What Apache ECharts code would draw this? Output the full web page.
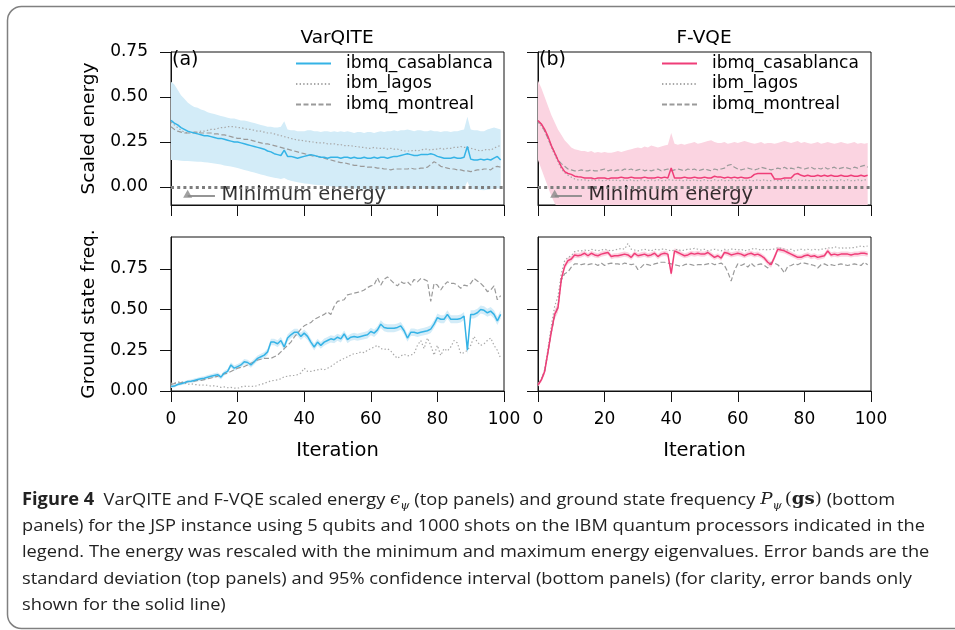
<!DOCTYPE html>
<html>
<head>
<meta charset="utf-8">
<script src="https://cdn.jsdelivr.net/npm/echarts@6/dist/echarts.min.js"></script>
<style>
  html, body { margin: 0; padding: 0; background: #fff; }
  #chart { width: 955px; height: 630px; }
</style>
</head>
<body>
<div id="chart"></div>
<script>
// Iteration index shared by every curve
const ITER = Array.from({ length: 100 }, (_, i) => i);

const xTicks = [0, 20, 40, 60, 80, 100];
const yTicks = [0, 0.25, 0.5, 0.75];

const legendNames = ['ibmq_casablanca', 'ibm_lagos', 'ibmq_montreal'];

// ---- VarQITE: scaled energy ----
const vqEnergyCasablanca = [
  .37,.355,.345,.33,.32,.31,.305,.30,.295,.29,
  .285,.285,.28,.275,.27,.27,.265,.26,.255,.25,
  .25,.245,.24,.235,.23,.225,.22,.215,.21,.20,
  .195,.185,.18,.175,.205,.17,.17,.165,.16,.165,
  .17,.175,.18,.175,.17,.165,.165,.16,.165,.165,
  .165,.16,.165,.165,.16,.165,.16,.16,.165,.16,
  .16,.165,.16,.165,.165,.16,.165,.17,.17,.175,
  .18,.185,.18,.175,.175,.18,.18,.18,.185,.18,
  .17,.165,.16,.16,.16,.165,.16,.16,.165,.225,
  .155,.15,.15,.155,.15,.155,.15,.16,.17,.15
];
const vqEnergyUpper = [
  .585,.57,.54,.51,.49,.47,.455,.445,.44,.43,
  .425,.415,.41,.405,.40,.395,.39,.385,.38,.38,
  .375,.37,.37,.365,.36,.355,.35,.345,.34,.335,
  .335,.33,.33,.335,.365,.32,.315,.315,.31,.31,
  .31,.315,.315,.31,.31,.305,.31,.31,.305,.31,
  .305,.31,.305,.31,.305,.30,.305,.305,.30,.305,
  .305,.30,.305,.31,.305,.31,.31,.315,.31,.315,
  .315,.32,.315,.31,.315,.315,.31,.31,.315,.31,
  .31,.305,.31,.31,.305,.31,.31,.315,.32,.39,
  .32,.315,.315,.31,.31,.32,.325,.33,.325,.32
];
const vqEnergyLower = [
  .15,.15,.148,.146,.145,.145,.143,.142,.14,.14,
  .138,.136,.134,.13,.128,.125,.12,.117,.114,.11,
  .105,.10,.095,.09,.085,.08,.075,.07,.065,.06,
  .055,.052,.048,.045,.05,.04,.035,.03,.027,.024,
  .02,.018,.015,.013,.011,.01,.008,.006,.004,.002,
  0,-.002,-.004,-.005,-.006,-.008,-.01,-.01,-.012,-.012,
  -.014,-.014,-.015,-.013,-.012,-.015,-.012,-.01,-.012,-.01,
  -.01,-.005,-.008,-.01,-.012,-.01,-.01,-.008,-.01,-.012,
  -.012,-.014,-.015,-.014,-.015,-.012,-.015,-.012,-.01,.03,
  -.01,-.012,-.014,-.016,-.018,-.015,-.012,-.01,-.008,-.008
];
const vqEnergyLagos = [
  .36,.345,.33,.315,.305,.30,.30,.30,.305,.31,
  .31,.315,.32,.32,.325,.33,.33,.335,.335,.335,
  .33,.33,.325,.32,.32,.315,.31,.31,.305,.30,
  .30,.295,.29,.285,.28,.275,.27,.265,.26,.26,
  .255,.255,.25,.25,.245,.245,.245,.24,.24,.24,
  .235,.235,.23,.23,.23,.225,.225,.22,.22,.215,
  .215,.22,.215,.215,.215,.21,.215,.21,.21,.205,
  .20,.20,.20,.205,.20,.205,.21,.21,.205,.21,
  .21,.215,.21,.215,.215,.22,.22,.225,.22,.22,
  .215,.21,.205,.20,.205,.21,.205,.215,.225,.23
];
const vqEnergyMontreal = [
  .335,.32,.31,.305,.30,.30,.30,.305,.305,.30,
  .30,.30,.30,.295,.295,.29,.29,.285,.28,.275,
  .27,.27,.265,.265,.26,.255,.25,.245,.24,.24,
  .235,.23,.225,.22,.215,.21,.205,.20,.195,.19,
  .185,.18,.175,.17,.17,.165,.16,.155,.15,.145,
  .14,.135,.135,.13,.125,.12,.12,.115,.115,.11,
  .11,.11,.105,.105,.10,.10,.095,.10,.10,.10,
  .10,.10,.105,.10,.10,.105,.105,.11,.125,.14,
  .13,.115,.11,.105,.10,.10,.095,.095,.09,.09,
  .085,.09,.095,.095,.10,.10,.095,.11,.115,.11
];

// ---- F-VQE: scaled energy ----
const fvEnergyCasablanca = [
  .37,.35,.32,.28,.23,.19,.15,.113,.085,.075,
  .07,.06,.057,.055,.05,.05,.05,.045,.05,.05,
  .05,.045,.05,.05,.05,.055,.05,.05,.055,.05,
  .05,.05,.055,.05,.05,.05,.055,.05,.055,.05,
  .105,.05,.05,.05,.055,.05,.05,.055,.05,.05,
  .055,.05,.05,.06,.055,.055,.05,.055,.05,.055,
  .05,.055,.05,.05,.055,.07,.075,.075,.075,.075,
  .075,.045,.045,.045,.05,.05,.05,.07,.075,.065,
  .06,.065,.06,.06,.065,.06,.065,.06,.065,.06,
  .06,.065,.06,.06,.065,.06,.06,.065,.06,.065
];
const fvEnergyUpper = [
  .59,.55,.50,.45,.40,.36,.32,.29,.26,.24,
  .22,.21,.205,.20,.20,.195,.20,.19,.195,.19,
  .195,.19,.19,.195,.20,.195,.20,.205,.21,.215,
  .22,.215,.225,.22,.23,.225,.22,.225,.23,.235,
  .30,.24,.235,.24,.235,.24,.245,.25,.24,.245,
  .25,.255,.26,.25,.245,.245,.25,.24,.245,.25,
  .245,.25,.255,.25,.245,.24,.245,.25,.24,.245,
  .245,.24,.245,.25,.255,.25,.245,.25,.255,.245,
  .25,.245,.24,.245,.25,.24,.245,.25,.245,.24,
  .245,.25,.245,.24,.245,.25,.24,.245,.24,.245
];
const fvEnergyLower = [
  .15,.10,.05,0,-.05,-.09,-.12,-.14,-.15,-.15,
  -.14,-.13,-.13,-.125,-.12,-.125,-.12,-.12,-.125,-.12,
  -.12,-.125,-.12,-.12,-.115,-.12,-.12,-.115,-.12,-.125,
  -.12,-.125,-.12,-.125,-.13,-.125,-.12,-.125,-.12,-.13,
  -.11,-.13,-.125,-.13,-.125,-.13,-.135,-.13,-.135,-.13,
  -.13,-.135,-.14,-.13,-.135,-.13,-.135,-.13,-.135,-.14,
  -.135,-.14,-.135,-.14,-.135,-.12,-.115,-.12,-.115,-.12,
  -.12,-.145,-.14,-.145,-.14,-.135,-.14,-.12,-.115,-.125,
  -.13,-.125,-.13,-.125,-.13,-.125,-.13,-.125,-.13,-.125,
  -.13,-.125,-.13,-.125,-.13,-.125,-.13,-.125,-.13,-.125
];
const fvEnergyLagos = [
  .36,.34,.31,.27,.22,.18,.14,.10,.08,.065,
  .055,.045,.04,.04,.04,.035,.04,.035,.04,.035,
  .035,.04,.035,.04,.035,.035,.04,.035,.04,.035,
  .035,.04,.035,.035,.04,.035,.04,.035,.035,.04,
  .04,.035,.04,.035,.035,.04,.035,.04,.035,.035,
  .04,.035,.035,.04,.035,.04,.035,.035,.04,.035,
  .035,.04,.035,.04,.035,.035,.04,.035,.04,.035,
  .035,.04,.035,.035,.04,.035,.04,.035,.04,.035,
  .04,.035,.035,.04,.035,.04,.035,.035,.04,.035,
  .035,.04,.035,.04,.035,.035,.04,.035,.04,.04
];
const fvEnergyMontreal = [
  .36,.35,.31,.27,.23,.19,.15,.13,.115,.10,
  .095,.09,.09,.095,.09,.09,.095,.09,.09,.095,
  .10,.09,.095,.09,.095,.09,.10,.095,.10,.09,
  .095,.10,.09,.095,.09,.095,.10,.09,.095,.10,
  .09,.095,.10,.095,.09,.10,.095,.10,.09,.095,
  .10,.095,.09,.10,.095,.10,.105,.12,.125,.11,
  .10,.095,.10,.105,.10,.095,.10,.11,.105,.10,
  .095,.10,.105,.10,.11,.10,.105,.10,.11,.105,
  .10,.105,.11,.10,.105,.10,.11,.10,.105,.11,
  .10,.105,.11,.105,.10,.11,.105,.115,.12,.11
];

// ---- VarQITE: ground state frequency ----
const vqFreqCasablanca = [
  .027,.03,.04,.045,.05,.058,.06,.065,.07,.075,
  .078,.085,.09,.095,.10,.085,.11,.12,.16,.14,
  .15,.16,.18,.175,.16,.18,.20,.21,.22,.24,
  .30,.30,.29,.31,.27,.325,.345,.36,.36,.335,
  .355,.335,.30,.27,.30,.28,.30,.31,.32,.315,
  .33,.32,.35,.315,.33,.335,.33,.335,.34,.345,
  .365,.355,.375,.41,.39,.385,.385,.385,.39,.40,
  .37,.325,.36,.36,.355,.36,.365,.37,.38,.41,
  .45,.44,.44,.47,.44,.44,.44,.445,.46,.25,
  .47,.47,.48,.50,.495,.48,.49,.47,.43,.47
];
const vqFreqCI = [
  .008,.008,.009,.009,.01,.01,.011,.011,.012,.012,
  .012,.013,.013,.014,.014,.014,.015,.015,.016,.016,
  .016,.017,.017,.017,.018,.018,.018,.019,.019,.02,
  .02,.02,.021,.021,.021,.022,.022,.022,.022,.022,
  .022,.022,.021,.021,.021,.021,.022,.022,.022,.022,
  .022,.022,.022,.022,.022,.022,.022,.022,.022,.023,
  .023,.023,.023,.024,.024,.024,.024,.024,.024,.024,
  .023,.023,.023,.023,.023,.023,.023,.024,.024,.024,
  .025,.025,.025,.025,.025,.025,.025,.025,.025,.028,
  .025,.025,.025,.025,.025,.025,.025,.025,.025,.025
];
const vqFreqLagos = [
  .047,.05,.055,.058,.05,.04,.045,.04,.038,.035,
  .037,.035,.03,.032,.028,.022,.025,.02,.022,.018,
  .016,.025,.03,.028,.03,.027,.035,.04,.047,.055,
  .062,.065,.068,.075,.088,.09,.095,.095,.10,.11,
  .14,.12,.12,.125,.13,.134,.13,.14,.15,.165,
  .18,.19,.20,.21,.22,.23,.23,.24,.235,.25,
  .26,.27,.28,.26,.255,.26,.245,.22,.20,.215,
  .225,.215,.22,.23,.28,.31,.26,.325,.28,.22,
  .28,.218,.26,.245,.27,.31,.295,.23,.235,.25,
  .28,.335,.30,.28,.29,.31,.325,.28,.25,.20
];
const vqFreqMontreal = [
  .04,.045,.05,.05,.055,.058,.06,.06,.065,.065,
  .07,.075,.08,.085,.09,.10,.105,.11,.12,.13,
  .14,.145,.15,.16,.17,.18,.19,.195,.20,.20,
  .20,.21,.22,.24,.26,.28,.30,.33,.355,.38,
  .40,.41,.42,.44,.45,.46,.47,.485,.47,.52,
  .55,.555,.56,.59,.595,.60,.605,.61,.62,.635,
  .645,.65,.695,.65,.685,.70,.68,.66,.645,.67,
  .66,.67,.65,.685,.67,.69,.685,.675,.55,.66,
  .65,.62,.65,.67,.66,.66,.65,.63,.65,.645,
  .66,.69,.675,.66,.64,.61,.62,.645,.56,.585
];

// ---- F-VQE: ground state frequency ----
const fvFreqCasablanca = [
  .037,.068,.12,.24,.365,.47,.51,.685,.765,.80,
  .81,.834,.83,.835,.845,.83,.845,.835,.83,.84,
  .845,.85,.825,.83,.83,.835,.84,.835,.82,.845,
  .83,.835,.84,.83,.835,.845,.825,.84,.845,.84,
  .72,.86,.85,.84,.83,.835,.845,.84,.845,.84,
  .84,.85,.835,.82,.83,.815,.85,.845,.835,.84,
  .845,.84,.83,.84,.845,.835,.84,.83,.815,.79,
  .775,.82,.87,.865,.86,.85,.84,.83,.82,.82,
  .83,.835,.825,.83,.82,.825,.83,.86,.835,.84,
  .835,.84,.84,.84,.835,.84,.84,.845,.845,.84
];
const fvFreqCI = [
  .01,.015,.02,.025,.03,.03,.03,.025,.02,.02,
  .018,.017,.016,.016,.016,.016,.016,.016,.016,.016,
  .016,.016,.016,.016,.016,.016,.016,.016,.016,.016,
  .016,.016,.016,.016,.016,.016,.016,.016,.016,.016,
  .022,.016,.016,.016,.016,.016,.016,.016,.016,.016,
  .016,.016,.016,.016,.016,.016,.016,.016,.016,.016,
  .016,.016,.016,.016,.016,.016,.016,.016,.017,.018,
  .018,.017,.016,.016,.016,.016,.016,.016,.016,.016,
  .016,.016,.016,.016,.016,.016,.016,.016,.016,.016,
  .016,.016,.016,.016,.016,.016,.016,.016,.016,.016
];
const fvFreqLagos = [
  .04,.07,.13,.26,.40,.52,.58,.72,.80,.82,
  .83,.855,.86,.86,.865,.86,.87,.865,.86,.865,
  .87,.865,.86,.865,.87,.875,.87,.905,.87,.865,
  .86,.865,.87,.865,.86,.87,.865,.87,.87,.865,
  .86,.865,.87,.86,.865,.87,.87,.875,.87,.865,
  .87,.86,.865,.87,.865,.86,.87,.865,.87,.87,
  .865,.87,.86,.865,.87,.875,.87,.865,.87,.865,
  .87,.87,.88,.875,.87,.865,.87,.86,.865,.87,
  .865,.87,.865,.87,.865,.87,.87,.88,.875,.885,
  .88,.875,.88,.875,.88,.88,.885,.89,.885,.89
];
const fvFreqMontreal = [
  .04,.07,.12,.24,.36,.46,.52,.68,.72,.73,
  .76,.78,.78,.775,.78,.775,.78,.78,.77,.785,
  .77,.78,.785,.78,.78,.775,.785,.78,.775,.78,
  .745,.76,.78,.775,.77,.78,.785,.79,.79,.785,
  .78,.775,.77,.765,.775,.78,.775,.77,.775,.775,
  .775,.78,.785,.775,.78,.785,.77,.73,.675,.74,
  .78,.77,.78,.76,.785,.765,.775,.78,.77,.755,
  .79,.785,.775,.755,.725,.765,.77,.78,.775,.785,
  .785,.78,.775,.77,.755,.775,.78,.77,.775,.77,
  .775,.78,.775,.77,.775,.78,.775,.77,.79,.775
];

// Arrow + label marking the minimum energy (iteration, scaled energy)
const minEnergyArrow = [[5, -0.05], [13.2, -0.05]];
const minEnergyHead = [[5, -0.037]];
const minEnergyText = [[15.2, -0.045]];

const captionLines = [
  '{b|Figure 4}  VarQITE and F-VQE scaled energy {m|\u03f5}{s|\u03c8} (top panels) and ground state frequency {m|P}{s|\u03c8}\u2009{p|(}{g|gs}{p|)} (bottom',
  'panels) for the JSP instance using 5 qubits and 1000 shots on the IBM quantum processors indicated in the',
  'legend. The energy was rescaled with the minimum and maximum energy eigenvalues. Error bands are the',
  'standard deviation (top panels) and 95% confidence interval (bottom panels) (for clarity, error bands only',
  'shown for the solid line)'
];

// ---------------- styling ----------------
const FONT = 'DejaVu Sans';
const BLUE = '#35b3e6', BLUE_BAND = '#d3ecf8';
const PINK = '#ef3d78', PINK_BAND = '#fbd4e1';
const GRAY_DOT = '#a8a8a8', GRAY_DASH = '#9a9a9a';

const grids = [
  { left: 171, top: 52, width: 333, height: 153 },
  { left: 538, top: 52, width: 333, height: 153 },
  { left: 171, top: 237, width: 333, height: 154 },
  { left: 538, top: 237, width: 333, height: 154 }
].map(g => Object.assign(g, { show: true, borderColor: '#111', borderWidth: 1, backgroundColor: 'transparent' }));

function xAxisFor(i) {
  const bottom = i >= 2;
  return {
    type: 'value', gridIndex: i, min: 0, max: 100, interval: 20,
    axisLine: { show: true, onZero: false, lineStyle: { color: '#111', width: 1 } },
    axisTick: { show: true, length: 11, lineStyle: { color: '#111', width: 1 } },
    axisLabel: { show: bottom, fontFamily: FONT, fontSize: 17, color: '#000', margin: 20,
                 formatter: v => String(v) },
    splitLine: { show: false },
    name: bottom ? 'Iteration' : '', nameLocation: 'middle', nameGap: 50,
    nameTextStyle: { fontFamily: FONT, fontSize: 19.5, color: '#000' }
  };
}
function yAxisFor(i) {
  const top = i < 2, left = i % 2 === 0;
  return {
    type: 'value', gridIndex: i,
    min: top ? -0.1 : 0, max: top ? 0.75 : 0.945,
    axisLine: { show: true, onZero: false, lineStyle: { color: '#111', width: 1 } },
    axisTick: { show: true, length: 11, customValues: yTicks, lineStyle: { color: '#111', width: 1 } },
    axisLabel: { show: left, customValues: yTicks, fontFamily: FONT, fontSize: 17, color: '#000', margin: 23,
                 formatter: v => v.toFixed(2) },
    splitLine: { show: false },
    name: left ? (top ? 'Scaled energy' : 'Ground state freq.') : '',
    nameLocation: 'middle', nameGap: 72,
    nameTextStyle: { fontFamily: FONT, fontSize: 18.5, color: '#000' }
  };
}

const pairs = vals => vals.map((v, i) => [ITER[i], v]);

// filled error band between two curves, clipped to its panel
function band(gi, lower, upper, color) {
  return {
    type: 'custom', xAxisIndex: gi, yAxisIndex: gi, silent: true, z: 1,
    data: ITER.map(i => [i, lower[i], upper[i]]),
    encode: { x: 0, y: [1, 2] },
    renderItem: (params, api) => {
      if (params.dataIndex !== 0) return null;
      const top = upper.map((u, i) => api.coord([ITER[i], u]));
      const bot = lower.map((l, i) => api.coord([ITER[i], l])).reverse();
      const cs = params.coordSys;
      return {
        type: 'polygon', shape: { points: top.concat(bot) }, style: { fill: color },
        clipPath: { type: 'rect', shape: { x: cs.x, y: cs.y, width: cs.width, height: cs.height } }
      };
    }
  };
}
function curve(gi, name, vals, color, width, type, z) {
  return { type: 'line', name, xAxisIndex: gi, yAxisIndex: gi, data: pairs(vals),
           symbol: 'none', showSymbol: false, silent: true, z: z,
           itemStyle: { color }, lineStyle: { color, width, type } };
}
const DOT = [1.4, 2.2], DASH = [5, 2.5];

function minEnergyMarks(gi) {
  return [
    { type: 'line', name: 'min-arrow-' + gi, xAxisIndex: gi, yAxisIndex: gi, data: minEnergyArrow,
      symbol: 'none', silent: true, z: 6, lineStyle: { color: '#8a8a8a', width: 1.8 } },
    { type: 'scatter', name: 'min-head-' + gi, xAxisIndex: gi, yAxisIndex: gi, data: minEnergyHead,
      symbol: 'triangle', symbolSize: [9, 8], silent: true, z: 6, itemStyle: { color: '#8a8a8a' } },
    { type: 'scatter', name: 'min-text-' + gi, xAxisIndex: gi, yAxisIndex: gi, data: minEnergyText,
      symbolSize: 0, silent: true, z: 7,
      label: { show: true, position: [0, 0], align: 'left', verticalAlign: 'middle',
               formatter: 'Minimum energy', fontFamily: FONT, fontSize: 19.5, color: '#000' } }
  ];
}
const zeroLine = {
  silent: true, symbol: 'none', label: { show: false },
  lineStyle: { color: '#7d7d7d', width: 3, type: [3, 3.2] },
  data: [{ yAxis: 0 }]
};

const suffix = ' \u00b7F';   // keeps the F-VQE series apart from the VarQITE ones
const series = [
  band(0, vqEnergyLower, vqEnergyUpper, BLUE_BAND),
  curve(0, 'ibm_lagos', vqEnergyLagos, GRAY_DOT, 1.2, DOT, 3),
  curve(0, 'ibmq_montreal', vqEnergyMontreal, GRAY_DASH, 1.2, DASH, 3),
  Object.assign(curve(0, 'ibmq_casablanca', vqEnergyCasablanca, BLUE, 1.5, 'solid', 4), { markLine: zeroLine }),
  ...minEnergyMarks(0),

  band(1, fvEnergyLower, fvEnergyUpper, PINK_BAND),
  curve(1, 'ibm_lagos' + suffix, fvEnergyLagos, GRAY_DOT, 1.2, DOT, 3),
  curve(1, 'ibmq_montreal' + suffix, fvEnergyMontreal, GRAY_DASH, 1.2, DASH, 3),
  Object.assign(curve(1, 'ibmq_casablanca' + suffix, fvEnergyCasablanca, PINK, 1.5, 'solid', 4), { markLine: zeroLine }),
  ...minEnergyMarks(1),

  band(2, vqFreqCasablanca.map((v, i) => v - vqFreqCI[i]), vqFreqCasablanca.map((v, i) => v + vqFreqCI[i]), BLUE_BAND),
  curve(2, 'ibm_lagos', vqFreqLagos, GRAY_DOT, 1.2, DOT, 3),
  curve(2, 'ibmq_montreal', vqFreqMontreal, GRAY_DASH, 1.2, DASH, 3),
  curve(2, 'ibmq_casablanca', vqFreqCasablanca, BLUE, 1.5, 'solid', 4),

  band(3, fvFreqCasablanca.map((v, i) => v - fvFreqCI[i]), fvFreqCasablanca.map((v, i) => v + fvFreqCI[i]), PINK_BAND),
  curve(3, 'ibm_lagos' + suffix, fvFreqLagos, GRAY_DOT, 1.2, DOT, 3),
  curve(3, 'ibmq_montreal' + suffix, fvFreqMontreal, GRAY_DASH, 1.2, DASH, 3),
  curve(3, 'ibmq_casablanca' + suffix, fvFreqCasablanca, PINK, 1.5, 'solid', 4)
];

function legendAt(left, names) {
  return {
    orient: 'vertical', left: left, top: 54.5, padding: 0, selectedMode: false,
    itemWidth: 35, itemHeight: 14, itemGap: 2.5,
    data: names,
    formatter: n => n.replace(suffix, ''),
    itemStyle: { color: 'rgba(0,0,0,0)', borderColor: 'rgba(0,0,0,0)', borderWidth: 0 },
    textStyle: { fontFamily: FONT, fontSize: 17, color: '#000', lineHeight: 18, padding: [0, 0, 0, 10] }
  };
}

// caption text is squeezed horizontally so its lines keep their widths
function textWidth(text, font) {
  const ctx = document.createElement('canvas').getContext('2d');
  ctx.font = font;
  return ctx.measureText(text).width;
}
const CAP_SIZE = 17;
const capScale = 903 / textWidth(captionLines[1], CAP_SIZE + 'px "Open Sans"');
const capRich = {
  b: { fontFamily: 'Open Sans', fontWeight: 'bold', fontSize: CAP_SIZE, lineHeight: 24, fill: '#222' },
  m: { fontFamily: 'DejaVu Serif', fontStyle: 'italic', fontSize: CAP_SIZE, lineHeight: 24, fill: '#222' },
  s: { fontFamily: 'DejaVu Serif', fontStyle: 'italic', fontSize: 11, lineHeight: 11, verticalAlign: 'bottom', fill: '#222' },
  p: { fontFamily: 'DejaVu Serif', fontSize: CAP_SIZE, lineHeight: 24, fill: '#222' },
  g: { fontFamily: 'DejaVu Serif', fontWeight: 'bold', fontSize: CAP_SIZE, lineHeight: 24, fill: '#222' }
};
const capY = [500, 526.5, 552.5, 579, 605];

const graphic = [
  { type: 'rect', shape: { x: 7.5, y: 6.5, width: 970, height: 622, r: 14 }, silent: true,
    style: { fill: 'none', stroke: '#808080', lineWidth: 1.5 } },
  { type: 'text', x: 337, y: 38, silent: true,
    style: { text: 'VarQITE', font: '18.5px "DejaVu Sans"', fill: '#000', align: 'center', verticalAlign: 'middle' } },
  { type: 'text', x: 704, y: 38, silent: true,
    style: { text: 'F-VQE', font: '18.5px "DejaVu Sans"', fill: '#000', align: 'center', verticalAlign: 'middle' } },
  { type: 'text', x: 172, y: 60, silent: true, z: 10,
    style: { text: '(a)', font: '19px "DejaVu Sans"', fill: '#000', align: 'left', verticalAlign: 'middle' } },
  { type: 'text', x: 539, y: 60, silent: true, z: 10,
    style: { text: '(b)', font: '19px "DejaVu Sans"', fill: '#000', align: 'left', verticalAlign: 'middle' } }
].concat(captionLines.map((t, k) => ({
  type: 'text', x: 22, y: capY[k], scaleX: capScale, originX: 0, silent: true,
  style: { text: t, fontFamily: 'Open Sans', fontSize: CAP_SIZE, lineHeight: 24, fill: '#222',
           align: 'left', verticalAlign: 'middle', rich: capRich }
})));

const chart = echarts.init(document.getElementById('chart'), null, { renderer: 'canvas' });
chart.setOption({
  animation: false,
  backgroundColor: '#fff',
  grid: grids,
  xAxis: [0, 1, 2, 3].map(xAxisFor),
  yAxis: [0, 1, 2, 3].map(yAxisFor),
  legend: [legendAt(295, legendNames), legendAt(661, legendNames.map(n => n + suffix))],
  series: series,
  graphic: graphic
});
</script>
</body>
</html>
